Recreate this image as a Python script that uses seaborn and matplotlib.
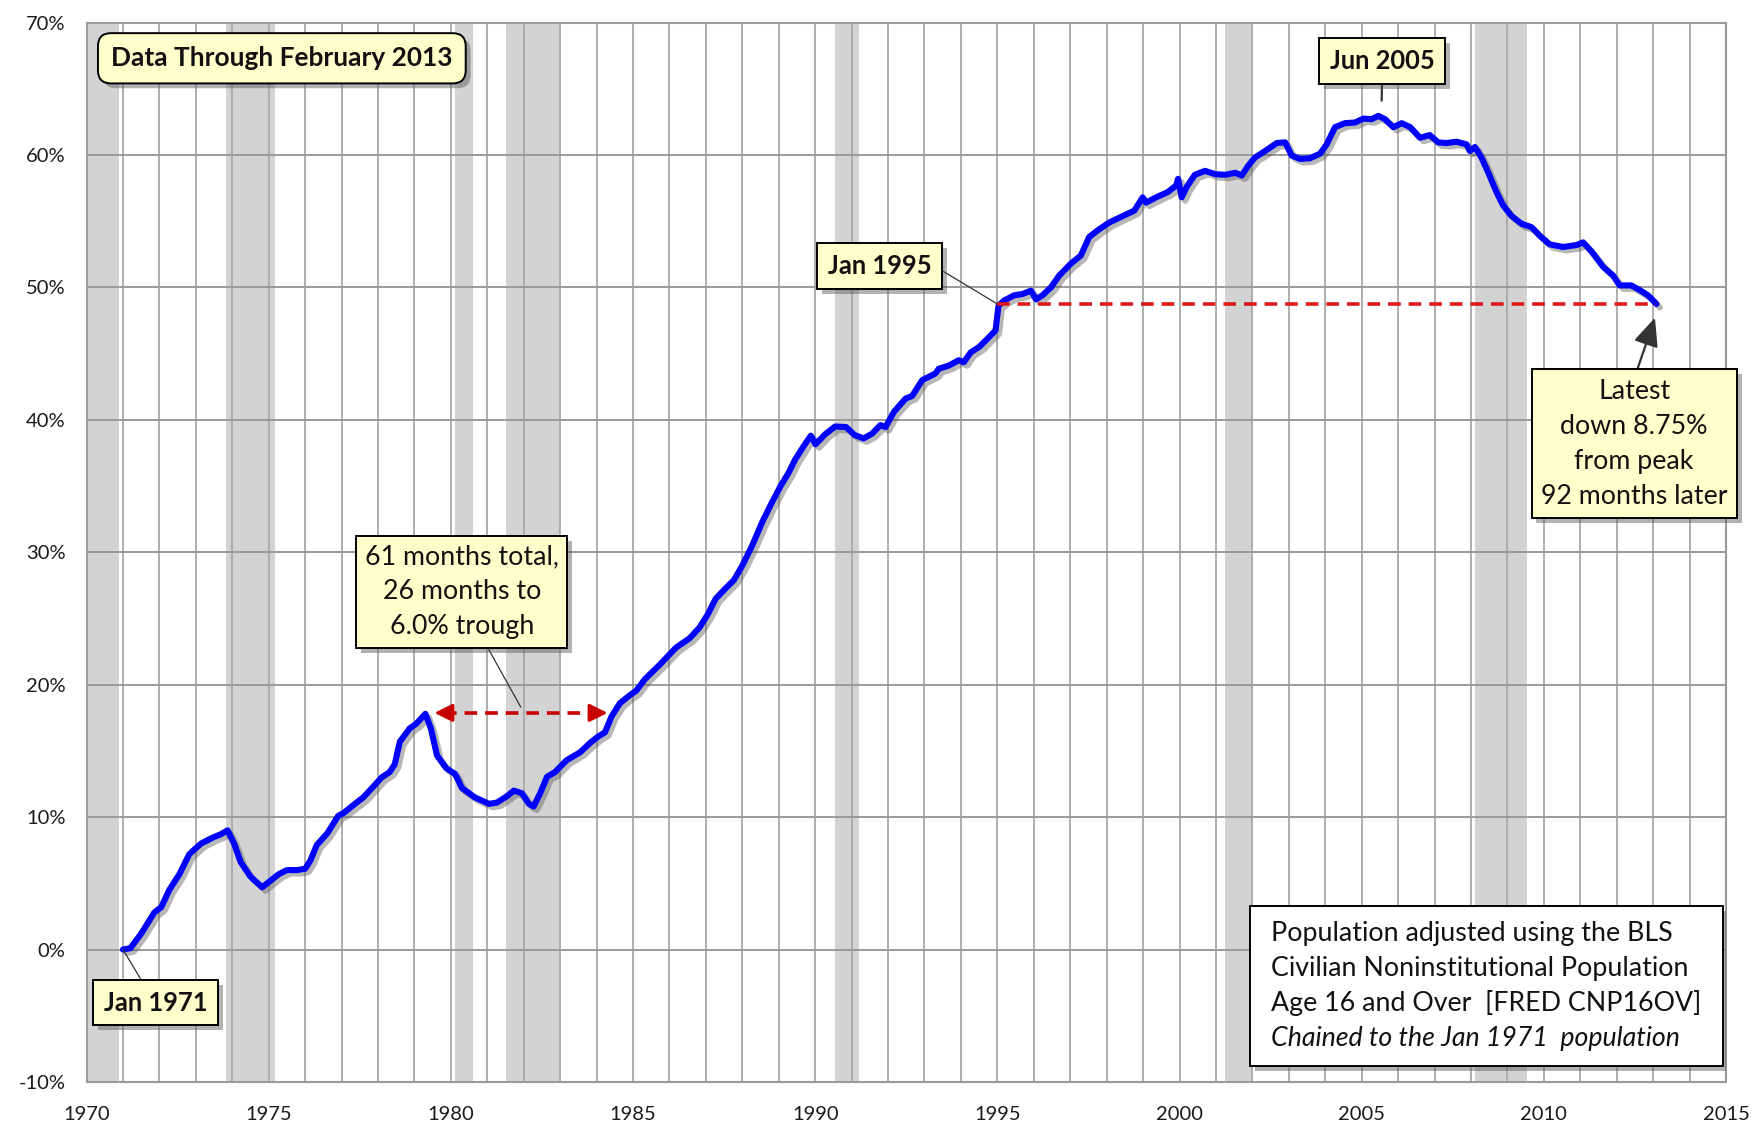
import matplotlib
matplotlib.use("Agg")
import matplotlib.pyplot as plt
import seaborn as sns
import pandas as pd
from matplotlib import patheffects as pe
from matplotlib.patches import Rectangle
from matplotlib.ticker import MultipleLocator, FuncFormatter

# ---------------- data ----------------
years = [
    1971.0, 1971.2, 1971.5, 1971.86, 1972.05, 1972.27, 1972.55, 1972.82, 1973.14, 1973.46,
    1973.68, 1973.87, 1974.05, 1974.23, 1974.5, 1974.82, 1975.05, 1975.28, 1975.5, 1975.78,
    1976.0, 1976.14, 1976.32, 1976.6, 1976.91, 1977.05, 1977.32, 1977.6, 1977.87, 1978.1,
    1978.32, 1978.46, 1978.6, 1978.87, 1979.05, 1979.3, 1979.45, 1979.62, 1979.87, 1980.12,
    1980.3, 1980.65, 1981.05, 1981.27, 1981.55, 1981.73, 1981.95, 1982.14, 1982.27, 1982.45,
    1982.64, 1982.86, 1983.0, 1983.18, 1983.55, 1983.82, 1984.05, 1984.23, 1984.41, 1984.64,
    1984.91, 1985.09, 1985.32, 1985.73, 1986.18, 1986.55, 1986.82, 1987.05, 1987.27, 1987.55,
    1987.77, 1988.0, 1988.27, 1988.55, 1988.82, 1989.05, 1989.27, 1989.45, 1989.68, 1989.88,
    1990.01, 1990.27, 1990.55, 1990.85, 1991.08, 1991.33, 1991.56, 1991.79, 1991.93, 1992.16,
    1992.48, 1992.66, 1992.94, 1993.3, 1993.39, 1993.67, 1993.94, 1994.08, 1994.27, 1994.5,
    1994.72, 1994.95, 1995.03, 1995.18, 1995.46, 1995.69, 1995.92, 1996.06, 1996.24, 1996.47,
    1996.7, 1997.02, 1997.29, 1997.52, 1997.75, 1998.07, 1998.53, 1998.76, 1998.99, 1999.08,
    1999.36, 1999.68, 1999.91, 1999.96, 2000.06, 2000.2, 2000.42, 2000.7, 2000.98, 2001.25,
    2001.53, 2001.71, 2001.89, 2002.07, 2002.35, 2002.67, 2002.9, 2003.08, 2003.31, 2003.58,
    2003.86, 2004.04, 2004.27, 2004.54, 2004.82, 2005.05, 2005.27, 2005.46, 2005.64, 2005.87,
    2006.1, 2006.33, 2006.6, 2006.87, 2007.1, 2007.33, 2007.6, 2007.88, 2007.97, 2008.11,
    2008.29, 2008.47, 2008.7, 2008.88, 2009.11, 2009.39, 2009.66, 2009.89, 2010.16, 2010.53,
    2010.9, 2011.08, 2011.31, 2011.63, 2011.9, 2012.08, 2012.4, 2012.63, 2012.86, 2013.09,
]
pct_change = [
    0.0, 0.1, 1.2, 2.8, 3.2, 4.5, 5.7, 7.2, 8.0, 8.45,
    8.7, 9.0, 8.0, 6.6, 5.5, 4.7, 5.2, 5.7, 6.0, 6.0,
    6.1, 6.7, 7.9, 8.75, 10.1, 10.3, 10.9, 11.5, 12.3, 13.0,
    13.4, 14.0, 15.7, 16.7, 17.05, 17.8, 16.7, 14.65, 13.7, 13.25,
    12.2, 11.5, 11.0, 11.1, 11.6, 12.0, 11.8, 11.0, 10.8, 11.8,
    13.05, 13.4, 13.8, 14.3, 14.9, 15.6, 16.1, 16.4, 17.6, 18.6,
    19.2, 19.55, 20.4, 21.5, 22.8, 23.5, 24.3, 25.3, 26.5, 27.3,
    27.9, 29.0, 30.5, 32.3, 33.8, 35.0, 36.0, 37.0, 38.0, 38.8,
    38.15, 38.9, 39.5, 39.45, 38.85, 38.6, 38.95, 39.6, 39.45, 40.6,
    41.6, 41.8, 43.0, 43.5, 43.85, 44.1, 44.5, 44.35, 45.1, 45.5,
    46.1, 46.75, 48.6, 49.0, 49.4, 49.5, 49.75, 49.1, 49.4, 50.0,
    50.9, 51.8, 52.4, 53.8, 54.3, 54.9, 55.5, 55.8, 56.8, 56.4,
    56.8, 57.2, 57.7, 58.2, 56.8, 57.6, 58.5, 58.8, 58.55, 58.5,
    58.65, 58.45, 59.2, 59.8, 60.3, 60.9, 60.95, 59.95, 59.7, 59.75,
    60.1, 60.8, 62.1, 62.4, 62.45, 62.75, 62.7, 62.95, 62.7, 62.1,
    62.4, 62.1, 61.3, 61.5, 60.95, 60.9, 61.0, 60.8, 60.3, 60.6,
    59.8, 58.7, 57.2, 56.2, 55.4, 54.8, 54.55, 53.9, 53.25, 53.05,
    53.2, 53.4, 52.7, 51.55, 50.9, 50.15, 50.15, 49.8, 49.4, 48.75,
]

recession_start = [1969.92, 1973.83, 1980.1, 1981.5, 1990.55, 2001.25, 2008.1]
recession_end = [1970.88, 1975.17, 1980.6, 1983.0, 1991.2, 2002.0, 2009.55]

x_ticks = [1970, 1975, 1980, 1985, 1990, 1995, 2000, 2005, 2010, 2015]
y_ticks = [-10, 0, 10, 20, 30, 40, 50, 60, 70]

jan1995_level = 48.75
latest_year = 2013.09
peak_1979 = (1979.55, 17.87)
recovery_1984 = (1984.3, 17.87)

note_lines = [
    "Population adjusted using the BLS",
    "Civilian Noninstitutional Population",
    "Age 16 and Over  [FRED CNP16OV]",
    "Chained to the Jan 1971  population",
]

# ---------------- figure ----------------
sns.set_theme(style="white")
plt.rcParams["font.family"] = ["Lato", "DejaVu Sans"]

fig = plt.figure(figsize=(17.63, 11.26), dpi=100)
ax = fig.add_axes([0.0491, 0.0391, 0.9299, 0.9409])

grid_c = "#a8a8a8"
for s, e in zip(recession_start, recession_end):
    ax.axvspan(s, e, color="#d3d3d3", lw=0, zorder=0)

df = pd.DataFrame({"year": years, "pct": pct_change})
sns.lineplot(
    data=df, x="year", y="pct", ax=ax, color="#0000ff", lw=4.4, zorder=5,
    path_effects=[pe.SimpleLineShadow(offset=(2.5, -2.5), shadow_color="#606060", alpha=0.45),
                  pe.Normal()],
)

ax.set_xlim(1970, 2015)
ax.set_ylim(-10, 70)
ax.set_xticks(x_ticks)
ax.set_yticks(y_ticks)
ax.xaxis.set_minor_locator(MultipleLocator(1))
ax.yaxis.set_major_formatter(FuncFormatter(lambda v, _: f"{int(v)}%"))
ax.set_axisbelow(True)
ax.grid(which="both", axis="x", color=grid_c, lw=1.3)
ax.grid(which="major", axis="y", color="#9a9a9a", lw=1.4)
ax.tick_params(which="both", length=0, labelsize=14.5, labelcolor="#1a1a1a")
ax.tick_params(axis="x", pad=17)
ax.tick_params(axis="y", pad=15)
ax.set_xlabel("")
ax.set_ylabel("")
for sp in ax.spines.values():
    sp.set_color("#9a9a9a")
    sp.set_linewidth(1.5)

# red dashed reference line from Jan 1995 level to latest
ax.plot([1995.0, latest_year], [jan1995_level, jan1995_level], color="#dd1a1a",
        lw=2.6, ls=(0, (3.5, 2.2)), zorder=6)

# red double arrow for 1979 -> 1984
ax.plot([peak_1979[0] + 0.25, recovery_1984[0] - 0.25], [peak_1979[1], recovery_1984[1]],
        color="#c80000", lw=2.6, ls=(0, (3.5, 2.2)), zorder=6)
for tip, tail in [(peak_1979, (peak_1979[0] + 0.5, peak_1979[1])),
                  (recovery_1984, (recovery_1984[0] - 0.5, recovery_1984[1]))]:
    ax.annotate("", xy=tip, xytext=tail,
                arrowprops=dict(arrowstyle="-|>,head_length=0.9,head_width=0.45",
                                color="#c80000", lw=2.2, shrinkA=0, shrinkB=0), zorder=7)

yellow = "#ffffcc"
shadow = [pe.withSimplePatchShadow(offset=(3.5, -3.5), shadow_rgbFace="#555555", alpha=0.45)]


def box(text, xy_text, xy=None, bold=True, fs=18.5, relpos=(0.5, 0.5), arrow="-",
        rounded=False, pad=0.42, lw_arrow=0.9, ls=1.25):
    bb = dict(boxstyle=("round,pad=%s,rounding_size=0.5" % pad) if rounded else ("square,pad=%s" % pad),
              fc=yellow, ec="black", lw=1.4)
    kw = dict(ha="center", va="center", fontsize=fs, fontweight="bold" if bold else "normal",
              color="#111111", bbox=bb, zorder=10, linespacing=ls)
    if xy is not None:
        t = ax.annotate(text, xy=xy, xytext=xy_text,
                        arrowprops=dict(arrowstyle=arrow, color="#333333", lw=lw_arrow,
                                        shrinkA=0, shrinkB=0, relpos=relpos), **kw)
    else:
        t = ax.text(xy_text[0], xy_text[1], text, **kw)
    t.get_bbox_patch().set_path_effects(shadow)
    return t


box("Data Through February 2013", (1975.36, 67.3), rounded=True, fs=18.9, pad=0.5)
box("Jan 1971", (1971.9, -4.0), xy=(1971.0, 0.0), fs=18.4, pad=0.42, relpos=(0.42, 1.0))
box("Jun 2005", (2005.56, 67.1), xy=(2005.55, 64.1), fs=18.4, pad=0.42, relpos=(0.5, 0.0),
    lw_arrow=1.6)
box("Jan 1995", (1991.77, 51.6), xy=(1995.0, 48.75), fs=18.4, pad=0.42, relpos=(1.0, 0.58))
box("61 months total,\n26 months to\n6.0% trough", (1980.3, 27.0), xy=(1981.92, 18.3),
    bold=False, fs=19.3, pad=0.32, relpos=(0.61, 0.0), ls=1.5)
box("Latest\ndown 8.75%\nfrom peak\n92 months later", (2012.48, 38.2), xy=(2013.05, 47.7),
    bold=False, fs=19.3, pad=0.35, relpos=(0.5, 1.0), ls=1.5,
    arrow="-|>,head_length=0.9,head_width=0.4", lw_arrow=1.6)

# note box (bottom right)
rect = Rectangle((0.7096, 0.0151), 0.2885, 0.151, transform=ax.transAxes, fc="white",
                 ec="black", lw=1.4, zorder=10)
rect.set_path_effects(shadow)
ax.add_patch(rect)
for yline, line in zip([0.1403, 0.1075, 0.0746, 0.0406], note_lines):
    ax.text(0.7225, yline, line, transform=ax.transAxes, ha="left", va="center", fontsize=19.3,
            color="#111111", style="italic" if line.startswith("Chained") else "normal", zorder=11)

fig.savefig("out.png", dpi=100)
